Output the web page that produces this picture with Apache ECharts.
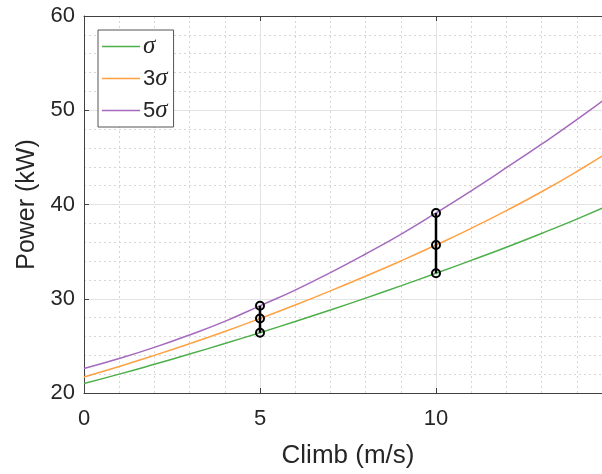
<!DOCTYPE html>
<html>
<head>
<meta charset="utf-8">
<script src="https://cdn.jsdelivr.net/npm/echarts@6/dist/echarts.min.js"></script>
<style>
html,body{margin:0;padding:0;background:#fff;overflow:hidden;width:602px;height:474px;position:relative;}
#c{position:absolute;left:0;top:0;width:612px;height:474px;}
</style>
</head>
<body>
<div id="c"></div>
<script>
// Data
var climb = [0,1,2,3,4,5,6,7,8,9,10,11,12,13,14,15];
var sigma1 = [21.0,22.0,23.05,24.13,25.25,26.4,27.59,28.81,30.07,31.37,32.7,34.07,35.47,36.93,38.45,40.05];
var sigma3 = [21.7,22.81,23.99,25.23,26.53,27.9,29.33,30.83,32.39,34.01,35.7,37.47,39.35,41.35,43.5,45.8];
var sigma5 = [22.6,23.66,24.84,26.16,27.6,29.25,30.92,32.77,34.75,36.84,39.1,41.45,43.9,46.4,49.0,51.75];
var markX1 = 5, markY1 = [26.4, 27.9, 29.25];
var markX2 = 10, markY2 = [32.7, 35.7, 39.1];
var seriesNames = ['σ','3σ','5σ'];
var xTicks = [0,5,10,15];
var yTicks = [20,30,40,50,60];

function pairs(xs, ys){ return xs.map(function(x,i){ return [x, ys[i]]; }); }
function vpairs(x, ys){ return ys.map(function(y){ return [x, y]; }); }

var axisCol = '#404040';
var textCol = '#262626';
var chart = echarts.init(document.getElementById('c'), null, {renderer:'canvas', width:612, height:474});
var lineW = 1.5;
var opt = {
  animation:false,
  backgroundColor:'#fff',
  grid:{left:84, top:16, right:0, bottom:81},
  legend:{
    data:seriesNames,
    orient:'vertical', left:98, top:30,
    backgroundColor:'#fff', borderColor:'#555', borderWidth:1, borderRadius:0,
    padding:[4,6,4,4], itemWidth:38, itemHeight:1.5, itemGap:7, icon:'rect',
    formatter:function(n){
      if(n==='σ') return '{s|σ}';
      return '{n|'+n.charAt(0)+'}{s|σ}';
    },
    textStyle:{
      color:textCol, padding:[0,0,0,-2],
      rich:{
        n:{fontFamily:'Liberation Sans, Arial', fontSize:22, color:textCol, lineHeight:24},
        s:{fontFamily:'Liberation Serif, serif', fontStyle:'italic', fontSize:25, color:textCol, lineHeight:24}
      }
    }
  },
  xAxis:[{
    type:'value', min:xTicks[0], max:xTicks[xTicks.length-1], interval:5,
    name:'Climb (m/s)', nameLocation:'middle', nameGap:50,
    nameTextStyle:{fontFamily:'Liberation Sans, Arial', fontSize:26, color:textCol},
    axisLine:{show:true, onZero:false, lineStyle:{color:axisCol, width:1}},
    axisTick:{show:true, inside:true, length:5, lineStyle:{color:axisCol}},
    axisLabel:{fontFamily:'Liberation Sans, Arial', fontSize:22, color:textCol, margin:15, showMaxLabel:false},
    splitLine:{show:true, lineStyle:{color:'#e3e3e3', width:1}},
    minorTick:{show:false, splitNumber:5},
    minorSplitLine:{show:true, lineStyle:{color:'#d6d6d6', width:1, type:[2,3]}}
  },{
    type:'value', position:'top', min:xTicks[0], max:xTicks[xTicks.length-1], interval:5,
    axisLine:{show:true, onZero:false, lineStyle:{color:axisCol, width:1}},
    axisTick:{show:true, inside:true, length:5, lineStyle:{color:axisCol}},
    axisLabel:{show:false}, splitLine:{show:false}
  }],
  yAxis:[{
    type:'value', min:yTicks[0], max:yTicks[yTicks.length-1], interval:10,
    name:'Power (kW)', nameLocation:'middle', nameGap:32, nameRotate:90,
    nameTextStyle:{fontFamily:'Liberation Sans, Arial', fontSize:25, color:textCol},
    axisLine:{show:true, onZero:false, lineStyle:{color:axisCol, width:1}},
    axisTick:{show:true, inside:true, length:5, lineStyle:{color:axisCol}},
    axisLabel:{fontFamily:'Liberation Sans, Arial', fontSize:22, color:textCol, margin:9},
    splitLine:{show:true, lineStyle:{color:'#e3e3e3', width:1}},
    minorTick:{show:false, splitNumber:5},
    minorSplitLine:{show:true, lineStyle:{color:'#d6d6d6', width:1, type:[2,3]}}
  }],
  series:[
    {name:seriesNames[0], type:'line', data:pairs(climb, sigma1), smooth:true, symbol:'none', color:'#4daf4a', lineStyle:{width:lineW}},
    {name:seriesNames[1], type:'line', data:pairs(climb, sigma3), smooth:true, symbol:'none', color:'#ffa142', lineStyle:{width:lineW}},
    {name:seriesNames[2], type:'line', data:pairs(climb, sigma5), smooth:true, symbol:'none', color:'#a569bd', lineStyle:{width:lineW}},
    {name:'m1', type:'line', data:vpairs(markX1, markY1), symbol:'circle', symbolSize:8, color:'#000',
      lineStyle:{width:2.5, color:'#000'}, itemStyle:{color:'rgba(0,0,0,0)', borderColor:'#000', borderWidth:2}, z:5},
    {name:'m2', type:'line', data:vpairs(markX2, markY2), symbol:'circle', symbolSize:8, color:'#000',
      lineStyle:{width:2.5, color:'#000'}, itemStyle:{color:'rgba(0,0,0,0)', borderColor:'#000', borderWidth:2}, z:5}
  ]
};
chart.setOption(opt);
</script>
</body>
</html>
